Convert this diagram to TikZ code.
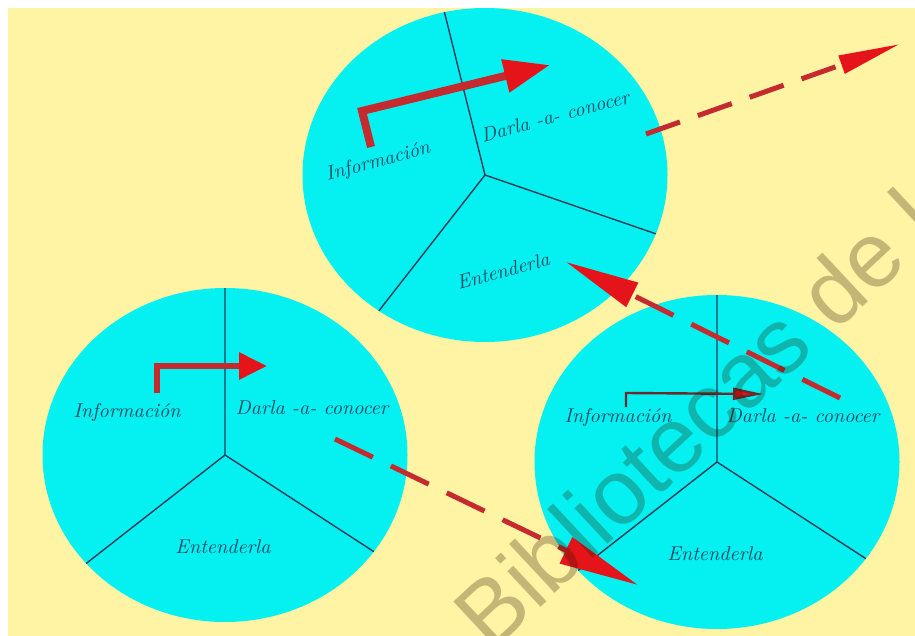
\documentclass[tikz,border=0pt]{standalone}
\usepackage{fontspec}
\newfontfamily\markfont{Liberation Sans}
\usepackage{tikz}
\usetikzlibrary{arrows.meta,positioning,shapes.geometric,calc}
\usepackage{xcolor}
\definecolor{bgyellow}{HTML}{FFF3A4}
\definecolor{circcyan}{HTML}{05F0F0}
\definecolor{divblue}{HTML}{1E3C5A}
\definecolor{txtblue}{HTML}{1A4A68}
\definecolor{arrred}{HTML}{E5141B}
\definecolor{arrdark}{HTML}{C42A2E}
\definecolor{arrbrown}{HTML}{6E2A2A}
\definecolor{markgray}{HTML}{2A1A00}

\begin{document}
\begin{tikzpicture}[
    x=0.5pt, y=-0.5pt,
    circ/.style={ellipse, fill=circcyan, inner sep=0pt, outer sep=0pt,
                 minimum width=182.5pt, minimum height=167pt},
    div/.style={divblue, line width=0.7pt},
    lbl/.style={font=\itshape, text=txtblue, inner sep=1pt},
    bent/.style={arrdark, line width=#1, line join=miter},
    darr/.style={arrdark, line width=2.5pt, dash pattern=on 21pt off 10pt}
]
\useasboundingbox (0,0) rectangle (915,636);
\fill[white] (0,0) rectangle (915,636);
\fill[bgyellow] (8,8) rectangle (915,636);

% three circles
\node[circ] (ctop) at (485,175) {};
\node[circ] (cleft) at (225,455) {};
\node[circ] (cright) at (717,462) {};

\draw[div] (ctop.center) -- (ctop.104) (ctop.center) -- (ctop.-19)
           (ctop.center) -- (ctop.-128);
\draw[div] (cleft.center) -- (cleft.90) (cleft.center) -- (cleft.-33)
           (cleft.center) -- (cleft.-142);
\draw[div] (cright.center) -- (cright.90) (cright.center) -- (cright.-33)
           (cright.center) -- (cright.-142);

% labels
\node[lbl, rotate=15] (infT) at (378,162) {Información};
\node[lbl, rotate=15] (darT) at (555,116) {Darla -a- conocer};
\node[lbl, rotate=15] (entT) at (503,271) {Entenderla};

\node[lbl] (infL) at (127,412) {Información};
\node[lbl] (darL) at (312,408) {Darla -a- conocer};
\node[lbl] (entL) at (223,547) {Entenderla};

\node[lbl] (infR) at (618,417) {Información};
\node[lbl] (darR) at (803,416) {Darla -a- conocer};
\node[lbl] (entR) at (715,554) {Entenderla};

% bent arrows inside the circles
\coordinate (bT1) at (371,147);
\coordinate (bT2) at (362,111);
\coordinate (bT3) at (550,65);
\draw[bent=4pt, -{Triangle[length=23pt, width=16pt, color=arrred]}]
    (bT1) -- (bT2) -- (bT3);

\coordinate (bL1) at (157,393);
\coordinate (bL2) at (157,366);
\coordinate (bL3) at (267,366);
\draw[bent=3pt, -{Triangle[length=14pt, width=13pt, color=arrred]}]
    (bL1) -- (bL2) -- (bL3);

\coordinate (bR1) at (626,407);
\coordinate (bR2) at (626,393);
\coordinate (bR3) at (763,394);
\draw[bent=1.2pt, arrbrown, -{Triangle[length=15pt, width=6pt, fill=arrred]}]
    (bR1) -- (bR2) -- (bR3);

% dashed arrows between the circles
\coordinate (dA1) at (646,134);
\coordinate (dA2) at (900,44);
\coordinate (dB1) at (335,439);
\coordinate (dB2) at (638,585);
\coordinate (dC1) at (840,398);
\coordinate (dC2) at (566,262);
\draw[darr, dash pattern=on 18pt off 9.5pt,
      -{Triangle[length=31pt, width=9pt, color=arrred]}] (dA1) -- (dA2);
\draw[darr, -{Triangle[length=40pt, width=14pt, color=arrred]}] (dB1) -- (dB2);
\draw[darr, -{Triangle[length=37pt, width=13pt, color=arrred]}] (dC1) -- (dC2);

% watermark
\begin{scope}
\clip (0,0) rectangle (915,636);
\node[rotate=43, text=markgray, text opacity=0.28,
      font=\markfont\fontsize{46}{46}\selectfont] (marca) at (695,418)
    {Bibliotecas de l};
\end{scope}
\end{tikzpicture}
\end{document}
